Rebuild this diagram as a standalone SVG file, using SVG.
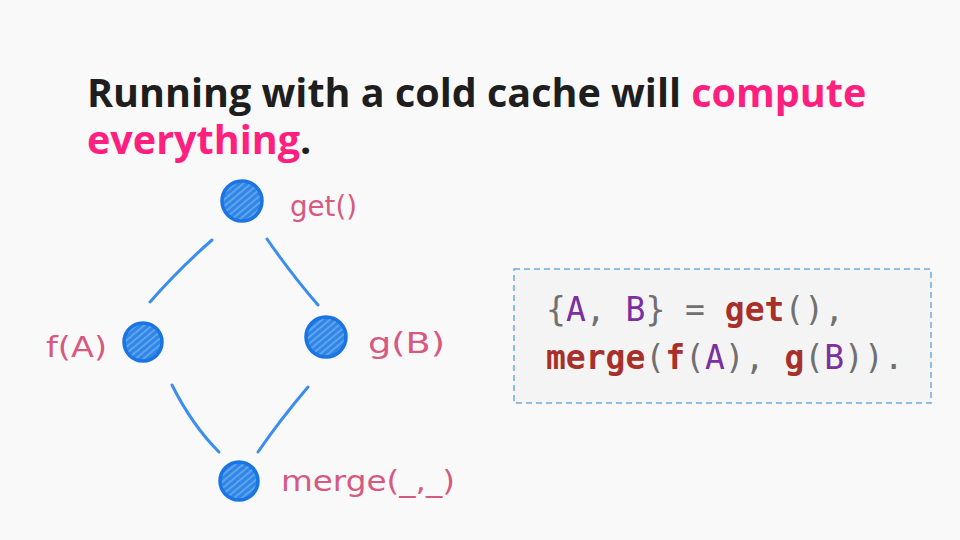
<svg xmlns="http://www.w3.org/2000/svg" width="960" height="540" viewBox="0 0 960 540">
<defs>
<pattern id="hatch" width="5" height="5" patternUnits="userSpaceOnUse" patternTransform="rotate(-40)">
<rect width="5" height="5" fill="#2f86e6"/>
<line x1="0" y1="2" x2="5" y2="2" stroke="#8ec0f5" stroke-width="1"/>
</pattern>
<style>
.title{font-family:"Open Sans","Noto Sans",sans-serif;font-weight:700;font-size:39.5px;fill:#1e1e1e}
.hl{fill:#ff1f7e}
.node{fill:url(#hatch);stroke:#1a74e4;stroke-width:3.5}
.edge{stroke:#3b8ef0;stroke-width:3;stroke-linecap:round;fill:none}
.lbl{font-family:"DejaVu Sans",sans-serif;font-size:28px;fill:#d6597f;font-weight:400}
.code{font-family:"DejaVu Sans Mono","Liberation Mono",monospace;font-size:33px;fill:#707070}
.kw{fill:#a8302b;font-weight:700}
.var{fill:#7b2fa0}
</style>
</defs>
<rect width="960" height="540" fill="#f9f9f9"/>
<text class="title" x="87" y="107">Running with a cold cache will <tspan class="hl">compute</tspan></text>
<text class="title" x="87" y="154"><tspan class="hl">everything</tspan>.</text>
<g id="connectors">
<path class="edge" d="M212 240 Q180 268 150 302"/>
<path class="edge" d="M267 239 Q292 275 318 305"/>
<path class="edge" d="M172 385 Q192 425 219 452"/>
<path class="edge" d="M308 387 Q280 420 258 452"/>
</g>
<g id="node-get"><circle class="node" cx="242" cy="201" r="20"/><text class="lbl" x="290" y="216" textLength="67" lengthAdjust="spacingAndGlyphs">get()</text></g>
<g id="node-f"><circle class="node" cx="143" cy="342" r="19"/><text class="lbl" x="46" y="357" textLength="61" lengthAdjust="spacingAndGlyphs">f(A)</text></g>
<g id="node-g"><circle class="node" cx="326" cy="337" r="20"/><text class="lbl" x="368" y="353" textLength="77" lengthAdjust="spacingAndGlyphs">g(B)</text></g>
<g id="node-merge"><circle class="node" cx="239" cy="481" r="19"/><text class="lbl" x="281" y="491" textLength="174" lengthAdjust="spacingAndGlyphs">merge(_,_)</text></g>
<g id="code">
<rect x="514" y="269" width="417" height="134" fill="#f4f4f4" stroke="#6fa8dc" stroke-width="1.5" stroke-dasharray="6,4"/>
<text class="code" x="546" y="321">{<tspan class="var">A</tspan>, <tspan class="var">B</tspan>} = <tspan class="kw">get</tspan>(),</text>
<text class="code" x="546" y="369"><tspan class="kw">merge</tspan>(<tspan class="kw">f</tspan>(<tspan class="var">A</tspan>), <tspan class="kw">g</tspan>(<tspan class="var">B</tspan>)).</text>
</g>
</svg>
